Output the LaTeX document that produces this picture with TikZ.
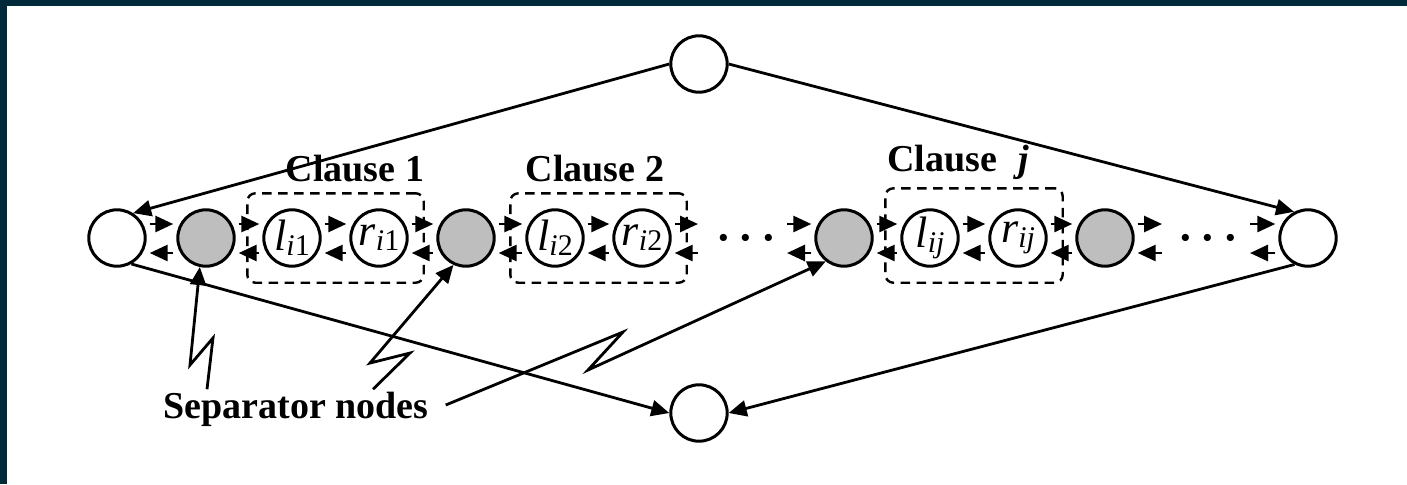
\documentclass[tikz,border=0pt]{standalone}
\usepackage{fontspec}
\setmainfont{Liberation Serif}
\usetikzlibrary{arrows.meta,calc,fit}
\definecolor{frameblue}{RGB}{0,41,58}
\definecolor{sepfill}{RGB}{190,190,190}
% vertex label: italic letter with a small subscript
\newcommand{\vlab}[2]{{\fontsize{22}{22}\selectfont\textit{#1}}\raisebox{-2.5pt}{\fontsize{15}{15}\selectfont #2}}
\tikzset{
  vtx/.style={circle, draw, line width=1.5pt, minimum size=28.2pt, inner sep=0pt},
  sepv/.style={vtx, fill=sepfill},
  arr/.style={line width=1.4pt, -{Triangle[length=9pt,width=8pt]}},
  clausebox/.style={draw, dash pattern=on 4.8pt off 3.2pt, line width=1.2pt,
                    rounded corners=4pt, inner sep=7.5pt},
  ttl/.style={font=\fontsize{19}{19}\selectfont\bfseries, inner sep=0pt},
  dotsnode/.style={font=\fontsize{22}{22}\selectfont\bfseries, inner sep=0pt},
}
\begin{document}
\begin{tikzpicture}[x=0.5pt,y=-0.5pt]
  % canvas and frame
  \fill[white] (0,0) rectangle (1407,484);
  \fill[frameblue] (0,0) rectangle (1407,6);
  \fill[frameblue] (0,0) rectangle (7,484);
  \useasboundingbox (0,0) rectangle (1407,484);

  % vertices
  \node[vtx]  (T)  at (699,64)  {};
  \node[vtx]  (B)  at (699,413) {};
  \node[vtx]  (L)  at (117,238) {};
  \node[sepv] (G1) at (206,238) {};
  \node[vtx]  (l1) at (292,238) {\vlab{l}{\textit{i}1}};
  \node[vtx]  (r1) at (379,238) {\vlab{r}{\textit{i}1}};
  \node[sepv] (G2) at (466,238) {};
  \node[vtx]  (l2) at (555,238) {\vlab{l}{\textit{i}2}};
  \node[vtx]  (r2) at (642,238) {\vlab{r}{\textit{i}2}};
  \node[dotsnode] (dots1) at (746,243) {·\hspace{4pt}·\hspace{4pt}·};
  \node[sepv] (G3) at (844,238) {};
  \node[vtx]  (lj) at (930,238) {\vlab{l}{\textit{ij}}};
  \node[vtx]  (rj) at (1018,238) {\vlab{r}{\textit{ij}}};
  \node[sepv] (G4) at (1105,238) {};
  \node[dotsnode] (dots2) at (1208,243) {·\hspace{4pt}·\hspace{4pt}·};
  \node[vtx]  (R)  at (1308,238) {};

  % open ends of the chain around the ellipses
  \coordinate (d1a) at (701,238);
  \coordinate (d1b) at (784,238);
  \coordinate (d2a) at (1165,238);
  \coordinate (d2b) at (1247,238);

  % two-way links along the chain
  \foreach \a/\b in {L/G1, G1/l1, l1/r1, r1/G2, G2/l2, l2/r2, r2/d1a,
                     d1b/G3, G3/lj, lj/rj, rj/G4, G4/d2a, d2b/R} {
    \draw[arr] ([shift={(3,-14)}]\a.east) -- ([shift={(-3,-14)}]\b.west);
    \draw[arr] ([shift={(-3,15)}]\b.west) -- ([shift={(3,15)}]\a.east);
  }

  % clause groups
  \coordinate (ljtop) at ($(lj.north)+(0,-5)$);
  \node[clausebox, fit=(l1)(r1)] (C1) {};
  \node[clausebox, fit=(l2)(r2)] (C2) {};
  \node[clausebox, fit=(lj)(rj)(ljtop)] (Cj) {};

  % long links through the source and sink
  \draw[arr] (T.west) -- (L.57);
  \draw[arr] (T.east) -- (R.118);
  \draw[arr] (L.-61) -- (B.west);
  \draw[arr] (R.243) -- (B.east);

  % clause titles
  \node[ttl, anchor=base] (t1) at (355,181) {Clause 1};
  \node[ttl, anchor=base] (t2) at (595,181) {Clause 2};
  \node[ttl, anchor=base] (tj) at (958,171) {Clause\hspace{0.55em}\textit{j}};

  % separator callout
  \node[ttl, anchor=base west] (sep) at (163,418) {Separator nodes};
  \coordinate (s1) at ($(sep.north west)+(44,-2)$);
  \coordinate (s2) at ($(sep.north west)+(210,-2)$);
  \coordinate (s3) at ($(sep.base east)+(17,-13)$);
  \draw[arr] (s1) -- (213,338) -- (190,365) -- (G1.258);
  \draw[arr] (s2) -- (410,353) -- (370,363) -- (G2.245);
  \draw[arr] (s3) -- (623,332) -- (588,370) -- (G3.232);
\end{tikzpicture}
\end{document}
